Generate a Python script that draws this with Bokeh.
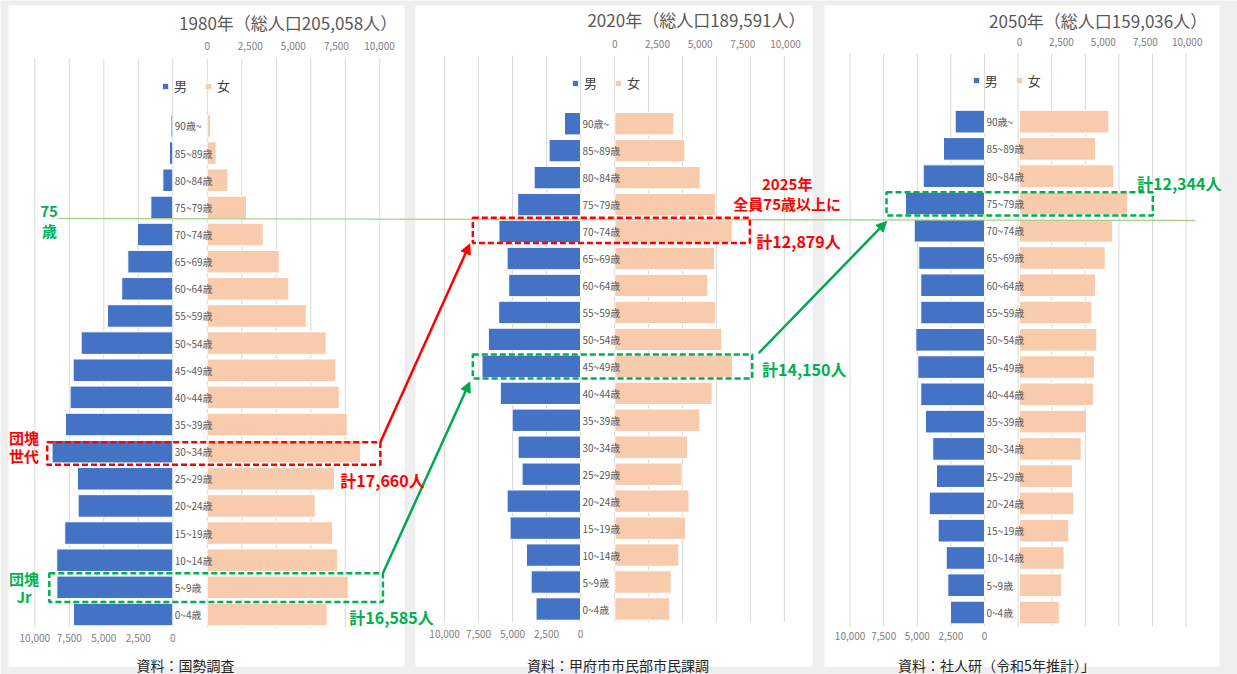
from bokeh.plotting import figure
from bokeh.models import Range1d, Label, Arrow, NormalHead, Legend, LegendItem
from bokeh.core.properties import value
from bokeh.embed import file_html
from bokeh.resources import INLINE

# ---------------- data (persons), bottom (0~4) to top (90~) ----------------
ages = ["0~4歳", "5~9歳", "10~14歳", "15~19歳", "20~24歳", "25~29歳", "30~34歳",
        "35~39歳", "40~44歳", "45~49歳", "50~54歳", "55~59歳", "60~64歳",
        "65~69歳", "70~74歳", "75~79歳", "80~84歳", "85~89歳", "90歳~"]

male_1980 = [7200, 8400, 8410, 7830, 6860, 6910, 8750, 7780, 7440, 7220,
             6640, 4730, 3700, 3260, 2560, 1590, 720, 240, 130]
female_1980 = [6960, 8185, 7560, 7270, 6270, 7390, 8910, 8130, 7660, 7470,
               6910, 5750, 4740, 4180, 3250, 2280, 1200, 520, 190]

male_2020 = [3270, 3630, 3980, 5180, 5400, 4300, 4590, 5030, 5900, 7250,
             6780, 6020, 5280, 5400, 6000, 4620, 3410, 2310, 1180]
female_2020 = [3220, 3300, 3750, 4140, 4350, 3940, 4260, 4980, 5700, 6900,
               6270, 5900, 5450, 5840, 6880, 5900, 5000, 4100, 3460]

male_2050 = [2530, 2730, 2850, 3450, 4110, 3570, 3850, 4390, 4740, 4960,
             5110, 4740, 4740, 4890, 5230, 5880, 4560, 3050, 2180]
female_2050 = [2370, 2520, 2660, 2940, 3240, 3160, 3680, 4000, 4410, 4470,
               4610, 4310, 4530, 5110, 5550, 6460, 5620, 4530, 5330]

ticks = [0, 2500, 5000, 7500, 10000]
tick_labels = ["0", "2,500", "5,000", "7,500", "10,000"]
grid_vals = [10000 - 2500 * j for j in range(11)]

titles = ["1980年（総人口205,058人）", "2020年（総人口189,591人）", "2050年（総人口159,036人）"]
sources = ["資料：国勢調査", "資料：甲府市市民部市民課調", "資料：社人研（令和5年推計）」"]
series = [(male_1980, female_1980), (male_2020, female_2020), (male_2050, female_2050)]

# ---------------- layout (image pixels) ----------------
W, H = 1237, 674
X0, Y0 = 0, 0
P = [
    dict(x0=8, x1=404, m0=172.3, mpx=0.0138, f0=206.7, fpx=0.01723, c=614.0, d=27.14,
         gtop=58, gbot=627, ttop=45, tbot=637.7, tx=396.7, ty=21.7, lx=161, ly=87, sx=185),
    dict(x0=415, x1=812, m0=580.0, mpx=0.01359, f0=614.3, fpx=0.01707, c=608.5, d=26.96,
         gtop=55, gbot=621.7, ttop=43.3, tbot=633.3, tx=805, ty=19.3, lx=571, ly=84, sx=617.5),
    dict(x0=824, x1=1219, m0=984.0, mpx=0.01344, f0=1019.0, fpx=0.01677, c=612.0, d=27.27,
         gtop=53.3, gbot=626, ttop=41.7, tbot=635.7, tx=1206.7, ty=20, lx=971.7, ly=81.7, sx=996),
]

FONT = "Noto Sans CJK JP"
BLUE, PEACH = "#4472c4", "#f8cbad"
RED, GREEN, GREEN_ARROW = "#ff0000", "#00b050", "#00a84f"


def xr(zero, ppu):
    return Range1d((X0 - zero) / ppu, (X0 + W - zero) / ppu)


def yr(c, d):
    return Range1d((c - (Y0 + H)) / d, (c - Y0) / d)


def mx(k, v):
    return P[k]["m0"] - P[k]["mpx"] * v


def fx(k, v):
    return P[k]["f0"] + P[k]["fpx"] * v


def ry(k, i):
    return P[k]["c"] - P[k]["d"] * i


p = figure(width=W, height=H, output_backend="svg", toolbar_location=None, title=None,
           x_range=Range1d(X0, X0 + W), y_range=Range1d(Y0 + H, Y0),
           x_axis_type=None, y_axis_type=None, min_border=0)
p.grid.visible = False
p.outline_line_color = None
p.background_fill_color = "#efefef"
p.border_fill_color = "#efefef"

for k, cfg in enumerate(P):
    p.extra_x_ranges[f"m{k}"] = xr(cfg["m0"], -cfg["mpx"])
    p.extra_x_ranges[f"f{k}"] = xr(cfg["f0"], cfg["fpx"])
    p.extra_y_ranges[f"y{k}"] = yr(cfg["c"], cfg["d"])

# white panels
p.quad(left=[c["x0"] for c in P], right=[c["x1"] for c in P],
       top=[5] * 3, bottom=[666] * 3, fill_color="white", line_color=None)

idx = list(range(len(ages)))
for k, cfg in enumerate(P):
    male, female = series[k]
    # vertical gridlines
    p.segment(x0=grid_vals, x1=grid_vals, y0=[cfg["gtop"]] * len(grid_vals),
              y1=[cfg["gbot"]] * len(grid_vals), x_range_name=f"m{k}",
              line_color="#d9d9d9", line_width=1)
    rm = p.hbar(y=idx, left=0, right=male, height=0.83, x_range_name=f"m{k}",
                y_range_name=f"y{k}", fill_color=BLUE, line_color="white", line_width=1)
    rf = p.hbar(y=idx, left=0, right=female, height=0.83, x_range_name=f"f{k}",
                y_range_name=f"y{k}", fill_color=PEACH, line_color="white", line_width=1)
    # age labels
    p.text(x=[0] * len(ages), y=idx, text=ages, x_range_name=f"m{k}", y_range_name=f"y{k}",
           x_offset=2, text_align="left", text_baseline="middle",
           text_font=value(FONT), text_font_size="10px", text_color="#595959")
    # female axis labels (top)
    p.text(x=ticks, y=[cfg["ttop"]] * len(ticks), text=tick_labels, x_range_name=f"f{k}",
           text_align="center", text_baseline="middle", text_font=value(FONT),
           text_font_size="10px", text_color="#808080")
    # male axis labels (bottom)
    p.text(x=ticks, y=[cfg["tbot"]] * len(ticks), text=tick_labels, x_range_name=f"m{k}",
           text_align="center", text_baseline="middle", text_font=value(FONT),
           text_font_size="10px", text_color="#808080")
    # title and source
    p.add_layout(Label(x=cfg["tx"], y=cfg["ty"], text=titles[k], text_align="right",
                       text_baseline="middle", text_font=FONT, text_font_size="17px",
                       text_color="#595959"))
    p.add_layout(Label(x=cfg["sx"], y=664, text=sources[k], text_align="center",
                       text_baseline="middle", text_font=FONT, text_font_size="14px",
                       text_color="#262626"))
    # legend
    leg = Legend(items=[LegendItem(label="男", renderers=[rm]),
                        LegendItem(label="女", renderers=[rf])],
                 orientation="horizontal", location=(cfg["lx"] - X0, (Y0 + H) - cfg["ly"] - 8),
                 padding=0, margin=0, spacing=10, glyph_width=8, glyph_height=8,
                 label_standoff=5, label_height=14, label_text_font=FONT,
                 label_text_font_size="13px", label_text_color="#404040",
                 background_fill_alpha=0, border_line_color=None)
    p.add_layout(leg)

# 75-year line
p.line(x=[58, 1195], y=[218, 220], line_color="#a9d18e", line_width=1.3)

# dashed boxes (left/right in persons, rows in category units)
boxes = [
    (0, 9100, 10050, 6.35, 5.52, RED),
    (0, 8950, 10200, 1.52, 0.46, GREEN),
    (1, 7925, 7910, 14.51, 13.58, RED),
    (1, 7925, 8050, 9.44, 8.55, GREEN),
    (2, 7290, 7950, 15.41, 14.56, GREEN),
]
bx = []
for k, lv, rv, ti, bi, col in boxes:
    L, R, T, B = mx(k, lv), fx(k, rv), ry(k, ti), ry(k, bi)
    bx.append((L, R, T, B))
    p.quad(left=L, right=R, top=T, bottom=B, fill_color=None, line_color=col,
           line_dash="6 3", line_width=2.5)

arrows = [
    (bx[0][1], bx[0][2], bx[2][0] - 3, bx[2][3] + 1, RED),
    (bx[1][1], bx[1][2], bx[3][0] - 3, bx[3][3] + 3.5, GREEN_ARROW),
    (bx[3][1] + 6.5, bx[3][2] - 1.3, bx[4][0], bx[4][3] + 6, GREEN_ARROW),
]
for xs, ys, xe, ye, col in arrows:
    p.add_layout(Arrow(x_start=xs, y_start=ys, x_end=xe, y_end=ye, line_color=col,
                       line_width=2.5,
                       end=NormalHead(size=10, fill_color=col, line_color=col, line_width=1)))

notes = [
    (48.5, 211, "75", GREEN, "15px", "center"),
    (49, 229.5, "歳", GREEN, "15px", "center"),
    (23.5, 436.5, "団塊", RED, "15px", "center"),
    (23.5, 455, "世代", RED, "15px", "center"),
    (23.5, 577.5, "団塊", GREEN, "15px", "center"),
    (23.5, 596, "Jr", GREEN, "15px", "center"),
    (382, 479, "計17,660人", RED, "16px", "center"),
    (391, 616, "計16,585人", GREEN, "16px", "center"),
    (786.7, 183, "2025年", RED, "15px", "center"),
    (786.7, 202.5, "全員75歳以上に", RED, "15px", "center"),
    (798, 240, "計12,879人", RED, "16px", "center"),
    (803.7, 368.3, "計14,150人", GREEN, "16px", "center"),
    (1178.7, 182.5, "計12,344人", GREEN, "16px", "center"),
]
for x, y, t, col, fs, al in notes:
    p.add_layout(Label(x=x, y=y, text=t, text_align=al, text_baseline="middle",
                       text_font=FONT, text_font_size=fs, text_font_style="bold",
                       text_color=col))

open("out.html", "w").write(file_html(p, INLINE))
